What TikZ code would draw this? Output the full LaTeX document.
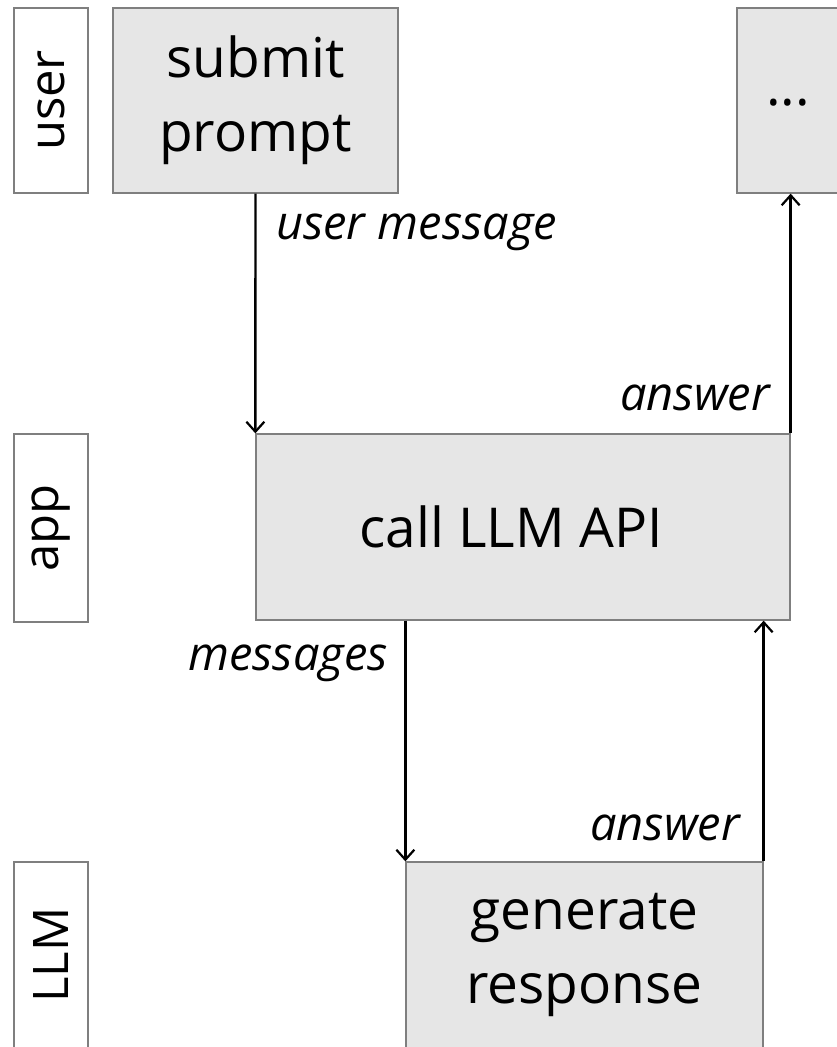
\documentclass[tikz,border=0pt]{standalone}
\usepackage{fontspec}
\setmainfont{Open Sans}
\usetikzlibrary{arrows.meta,calc}
\definecolor{boxfill}{HTML}{E6E6E6}
\definecolor{boxline}{HTML}{7F7F7F}
\begin{document}
\begin{tikzpicture}[x=1pt,y=-1pt,
  lane/.style={draw=boxline,line width=1.3pt,fill=white,minimum width=74pt,inner sep=0pt},
  lanetext/.style={font=\fontsize{49}{56}\selectfont,rotate=90},
  stepbox/.style={draw=boxline,line width=1.3pt,fill=boxfill,inner sep=0pt,align=center,
    font=\fontsize{55}{74}\selectfont},
  flow/.style={line width=2.4pt,-{Straight Barb[length=10pt,width=18pt,line width=2.2pt]}},
  lbl/.style={font=\fontsize{47}{54}\selectfont\itshape,inner sep=0pt}]
\useasboundingbox (0,0) rectangle (836,1047);
\fill[white] (0,0) rectangle (836,1047);
% lanes
\node[lane,minimum height=185pt] (ulane) at (51,100.5) {};
\node[lanetext] at (ulane.center) {user};
\node[lane,minimum height=188pt] (alane) at (51,528) {};
\node[lanetext] at (alane.center) {app};
\node[lane,minimum height=200pt] (llane) at (51,962) {};
\node[lanetext] at (51,955) {LLM};
% steps
\node[stepbox,minimum width=285pt,minimum height=185pt] (submit) at (255.5,100.5) {submit\\prompt};
\node[stepbox,minimum width=102pt,minimum height=185pt] (dots) at (788,100.5) {\raisebox{-10pt}{...}};
\node[stepbox,minimum width=534pt,minimum height=186pt] (call) at (523,527) {call LLM API\hspace*{24pt}};
\node[stepbox,minimum width=357pt,minimum height=186pt] (gen) at (584.5,955) {generate\\response};
% connectors
\draw[flow] (submit.south) -- (call.north west);
\draw[flow] (call.north east) -- (call.north east |- dots.south);
\draw[flow] (call.south west -| gen.north west) -- (gen.north west);
\draw[flow] (gen.north east) -- (gen.north east |- call.south);
% labels
\node[lbl,anchor=west] (l1) at (276,232) {user message};
\node[lbl,anchor=east] (l2) at (770,398) {answer};
\node[lbl,anchor=east] (l3) at (388,663) {messages};
\node[lbl,anchor=east] (l4) at (740,828) {answer};
\end{tikzpicture}
\end{document}
